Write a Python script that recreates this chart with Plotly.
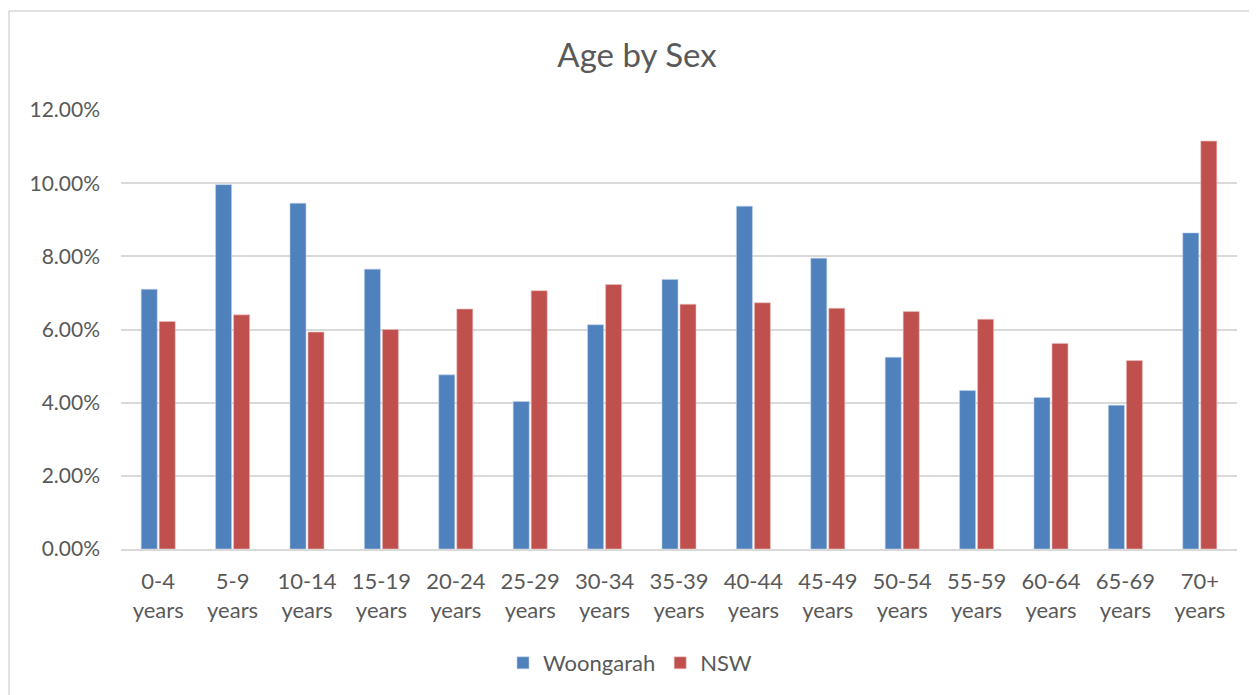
import plotly.graph_objects as go

categories = ["0-4<br>years", "5-9<br>years", "10-14<br>years", "15-19<br>years", "20-24<br>years",
              "25-29<br>years", "30-34<br>years", "35-39<br>years", "40-44<br>years", "45-49<br>years",
              "50-54<br>years", "55-59<br>years", "60-64<br>years", "65-69<br>years", "70+<br>years"]
woongarah = [7.10, 9.96, 9.45, 7.65, 4.76, 4.03, 6.13, 7.37, 9.37, 7.95, 5.24, 4.33, 4.14, 3.93, 8.64]
nsw = [6.22, 6.40, 5.93, 6.00, 6.56, 7.06, 7.23, 6.69, 6.73, 6.58, 6.49, 6.28, 5.62, 5.15, 11.15]
y_ticks = [0, 2, 4, 6, 8, 10, 12]
y_ticktext = [f"{v:.2f}%" for v in y_ticks]

FONT = "Lato"
GREY = "#595959"

fig = go.Figure()
fig.add_trace(go.Bar(x=categories, y=woongarah, name="Woongarah",
                     marker=dict(color="#4F81BD", line=dict(color="#BCD0EA", width=0.6))))
fig.add_trace(go.Bar(x=categories, y=nsw, name="NSW",
                     marker=dict(color="#C0504D", line=dict(color="#EBC0BF", width=0.6))))

# page has an 8px body margin; work in figure coordinates = window - 8
OFF = 8
W, H = 1257 - OFF, 695 - OFF
L, R, T, B = 121 - OFF, W - (1237 - OFF), 110 - OFF, H - (549.5 - OFF)
pw, ph = W - L - R, H - T - B

def px(x):
    return (x - OFF - L) / pw

def py(y):
    return (H - B - (y - OFF)) / ph

fig.update_layout(
    width=W, height=H,
    margin=dict(l=L, r=R, t=T, b=B, autoexpand=False),
    paper_bgcolor="white", plot_bgcolor="white",
    barmode="group", bargap=0.516, bargroupgap=0.11,
    font=dict(family=FONT, size=22, color=GREY),
    title=dict(text="Age by Sex", x=(637 - OFF) / W, xref="container", xanchor="center",
               y=1 - (55 - OFF) / H, yref="container", yanchor="middle",
               font=dict(family=FONT, size=33, color=GREY)),
    legend=dict(orientation="h", x=(630 - OFF) / W, xref="container", xanchor="center",
                y=1 - (663 - OFF) / H, yref="container", yanchor="middle",
                font=dict(family=FONT, size=22, color=GREY),
                itemwidth=30, traceorder="normal"),
    xaxis=dict(showgrid=False, showline=True, linecolor="#D9D9D9", linewidth=1.5,
               ticks="", ticklabelstandoff=12,
               tickfont=dict(family=FONT, size=22, color=GREY)),
    yaxis=dict(range=[0, 12], tickmode="array", tickvals=y_ticks, ticktext=y_ticktext,
               showgrid=True, gridcolor="#D9D9D9", gridwidth=1.5, zeroline=False,
               showline=False, ticks="", ticklabelstandoff=20,
               tickfont=dict(family=FONT, size=21, color=GREY)),
    shapes=[
        dict(type="line", xref="paper", yref="paper", x0=px(9), x1=px(1300), y0=py(11), y1=py(11),
             line=dict(color="#D9D9D9", width=1.5)),
        dict(type="line", xref="paper", yref="paper", x0=px(9), x1=px(9), y0=py(11), y1=py(760),
             line=dict(color="#D9D9D9", width=1.5)),
    ],
)

fig.write_html("out.html")
